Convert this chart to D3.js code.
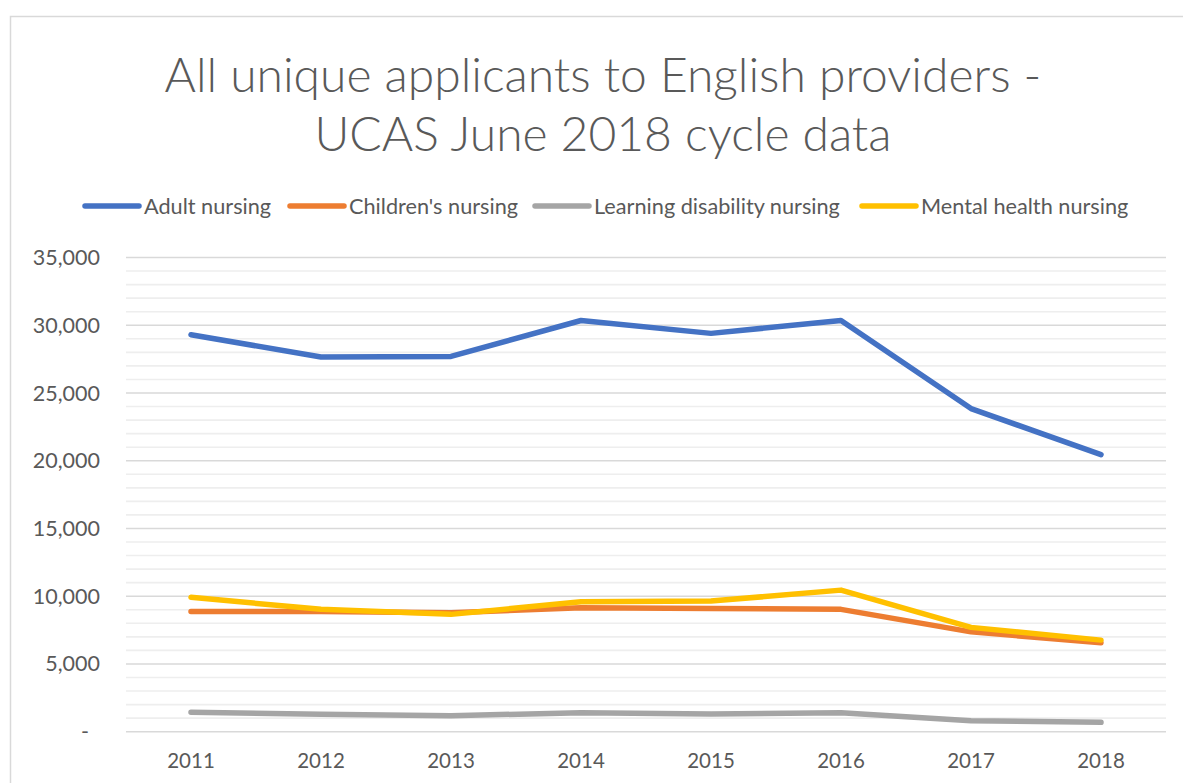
<!DOCTYPE html>
<html>
<head>
<meta charset="utf-8">
<script src="https://cdn.jsdelivr.net/npm/d3@7"></script>
<style>
  html, body { margin: 0; padding: 0; background: #fff; }
  svg { display: block; }
</style>
</head>
<body>
<svg id="chart" width="1183" height="783"></svg>
<script>
// ---- data ----
const years = ["2011", "2012", "2013", "2014", "2015", "2016", "2017", "2018"];
const seriesNames = ["Adult nursing", "Children's nursing", "Learning disability nursing", "Mental health nursing"];
const adultNursing = [29300, 27650, 27700, 30350, 29400, 30350, 23850, 20450];
const childrensNursing = [8870, 8880, 8780, 9140, 9100, 9030, 7370, 6560];
const learningDisabilityNursing = [1430, 1280, 1180, 1400, 1300, 1400, 810, 690];
const mentalHealthNursing = [9920, 9030, 8660, 9590, 9640, 10450, 7700, 6760];
const yTicks = [0, 5000, 10000, 15000, 20000, 25000, 30000, 35000];
const titleLines = ["All unique applicants to English providers -", "UCAS June 2018 cycle data"];

// ---- layout / style ----
const colors = ["#4472C4", "#ED7D31", "#A5A5A5", "#FFC000"];
const seriesValues = [adultNursing, childrensNursing, learningDisabilityNursing, mentalHealthNursing];
const plot = { left: 126, right: 1166, top: 257.5, bottom: 731.7 };
const font = "Lato, 'Open Sans', sans-serif";
const textColor = "#595959";

const svg = d3.select("#chart");

// frame
svg.append("rect").attr("x", 10.5).attr("y", 16.5).attr("width", 1250).attr("height", 900)
  .attr("fill", "#fff").attr("stroke", "#d9d9d9").attr("stroke-width", 1.5);

const x = d3.scaleBand().domain(years).range([plot.left, plot.right]);
const y = d3.scaleLinear().domain([0, 35000]).range([plot.bottom, plot.top]);

// minor gridlines
const minor = d3.range(1000, 35000, 1000).filter(v => v % 5000 !== 0);
svg.append("g").selectAll("line").data(minor).join("line")
  .attr("x1", plot.left).attr("x2", plot.right)
  .attr("y1", d => y(d)).attr("y2", d => y(d))
  .attr("stroke", "#eeeeee").attr("stroke-width", 1.6);

// major gridlines
svg.append("g").selectAll("line").data(yTicks).join("line")
  .attr("x1", plot.left).attr("x2", plot.right)
  .attr("y1", d => y(d)).attr("y2", d => y(d))
  .attr("stroke", "#d9d9d9").attr("stroke-width", 1.6);

// y axis labels
const fmt = d3.format(",");
svg.append("g").selectAll("text").data(yTicks).join("text")
  .attr("x", d => d === 0 ? 89 : 100)
  .attr("y", d => y(d))
  .attr("dy", "0.35em")
  .attr("text-anchor", "end")
  .attr("font-family", font).attr("font-size", 21.5).attr("fill", textColor)
  .text(d => d === 0 ? "-" : fmt(d));

// x axis labels
const xAxis = d3.axisBottom(x).tickSize(0).tickPadding(0);
const xg = svg.append("g").attr("transform", `translate(0, ${plot.bottom})`).call(xAxis);
xg.select(".domain").remove();
xg.selectAll("text").attr("y", 29).attr("dy", "0.35em")
  .attr("font-family", font).attr("font-size", 20.5).attr("fill", textColor);

// lines
const line = d3.line().x((d, i) => x(years[i]) + x.bandwidth() / 2).y(d => y(d));
svg.append("g").selectAll("path").data(seriesValues).join("path")
  .attr("d", d => line(d))
  .attr("fill", "none")
  .attr("stroke", (d, i) => colors[i])
  .attr("stroke-width", 5.5)
  .attr("stroke-linecap", "round")
  .attr("stroke-linejoin", "round");

// title
const title = svg.append("g");
const titleY = [92, 151];
titleLines.forEach((t, i) => {
  title.append("text")
    .attr("x", 603).attr("y", titleY[i])
    .attr("text-anchor", "middle")
    .attr("font-family", font).attr("font-weight", 300).attr("font-size", 48)
    .attr("fill", textColor)
    .text(t);
});

// legend
const legendX = [85, 290, 535, 862];
const legend = svg.append("g");
seriesNames.forEach((name, i) => {
  legend.append("line")
    .attr("x1", legendX[i]).attr("x2", legendX[i] + 54)
    .attr("y1", 206).attr("y2", 206)
    .attr("stroke", colors[i]).attr("stroke-width", 5.5).attr("stroke-linecap", "round");
  legend.append("text")
    .attr("x", legendX[i] + 59).attr("y", 206).attr("dy", "0.35em")
    .attr("font-family", font).attr("font-size", 21.7).attr("fill", textColor)
    .text(name);
});
</script>
</body>
</html>
